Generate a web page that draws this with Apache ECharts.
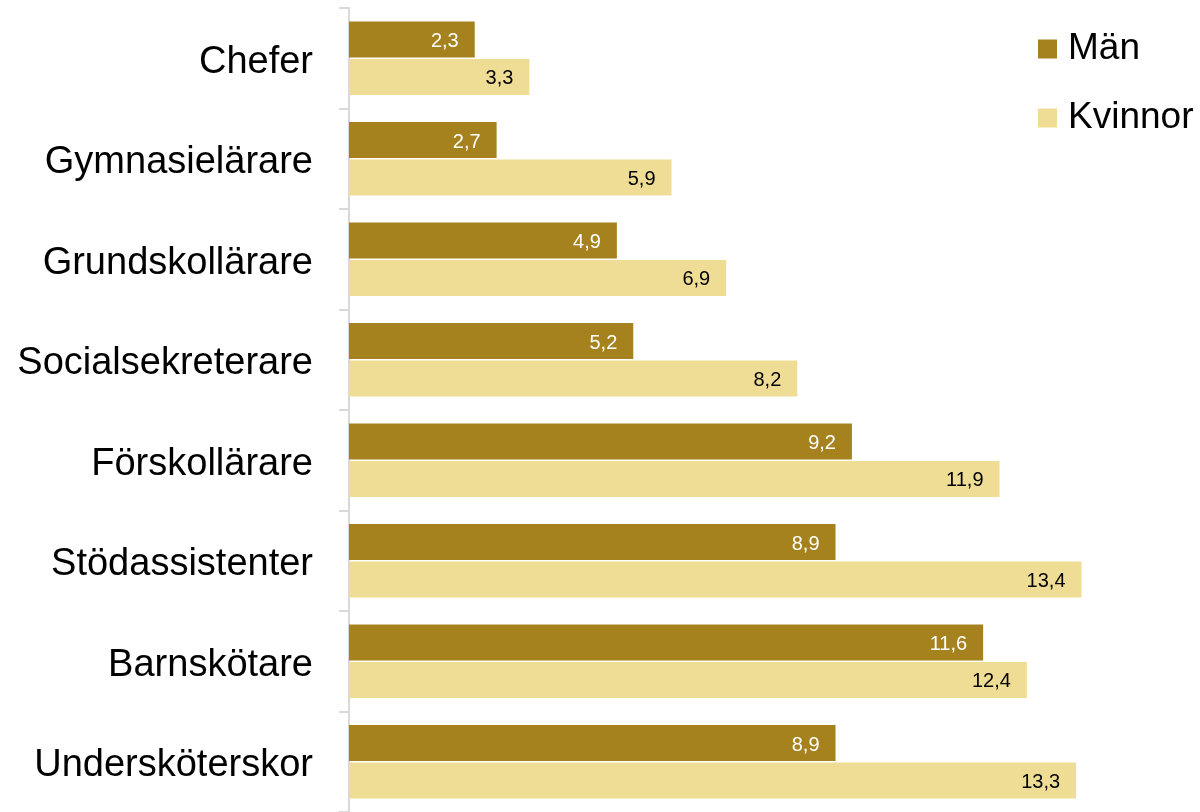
<!DOCTYPE html>
<html><head><meta charset="utf-8">
<script src="https://cdn.jsdelivr.net/npm/echarts@6/dist/echarts.min.js"></script>
<style>html,body{margin:0;padding:0;background:#fff}#c{width:1200px;height:812px}</style>
</head><body><div id="c"></div>
<script>
const categories = ['Chefer','Gymnasielärare','Grundskollärare','Socialsekreterare','Förskollärare','Stödassistenter','Barnskötare','Undersköterskor'];
const man = [2.3, 2.7, 4.9, 5.2, 9.2, 8.9, 11.6, 8.9];
const kvinnor = [3.3, 5.9, 6.9, 8.2, 11.9, 13.4, 12.4, 13.3];
const seriesNames = ['Män','Kvinnor'];
const FONT = 'Liberation Sans';
const fmt = p => String(p.value).replace('.', ',');
const chart = echarts.init(document.getElementById('c'));
chart.setOption({
  animation: false,
  textStyle: {fontFamily: FONT},
  legend: {
    orient: 'vertical', left: 1038, top: 29, padding: 0,
    itemWidth: 19, itemHeight: 19, itemGap: 29, icon: 'rect',
    textStyle: {fontSize: 37, lineHeight: 40, color: '#000', fontFamily: FONT, padding: [0,0,0,6]},
    data: seriesNames
  },
  grid: {left: 349, right: 31, top: 8, bottom: 0, containLabel: false},
  xAxis: {type: 'value', min: 0, max: 15, show: false},
  yAxis: {
    type: 'category', inverse: true, data: categories,
    axisLine: {show: true, lineStyle: {color: '#D9D9D9', width: 2}},
    axisTick: {show: true, length: 10, lineStyle: {color: '#D9D9D9', width: 2}},
    axisLabel: {
      color: '#000', margin: 36,
      formatter: v => '{a|' + v + '}',
      rich: {a: {fontSize: 38, color: '#000', fontFamily: FONT, padding: [8, 0, 0, 0]}}
    }
  },
  series: [
    {name: seriesNames[0], type: 'bar', data: man, barWidth: 36, barGap: '4%',
     itemStyle: {color: '#A5821D'},
     label: {show: true, position: 'insideRight', distance: 16, offset: [0, 2], color: '#fff', fontSize: 20, formatter: fmt, fontFamily: FONT}},
    {name: seriesNames[1], type: 'bar', data: kvinnor, barWidth: 36,
     itemStyle: {color: '#F0DD95'},
     label: {show: true, position: 'insideRight', distance: 16, offset: [0, 2], color: '#000', fontSize: 20, formatter: fmt, fontFamily: FONT}}
  ]
});
</script></body></html>
